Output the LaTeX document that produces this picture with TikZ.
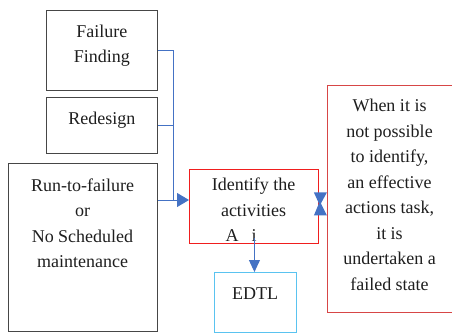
\documentclass[tikz,border=0pt]{standalone}
\usepackage{fontspec}
\setmainfont{Liberation Serif}
\usetikzlibrary{arrows.meta,calc}
\definecolor{boxgray}{RGB}{70,70,70}
\definecolor{conblue}{RGB}{68,114,196}
\definecolor{idred}{RGB}{240,30,30}
\definecolor{rtred}{RGB}{215,70,70}
\definecolor{edcyan}{RGB}{90,195,240}
\definecolor{txt}{RGB}{30,30,30}
\tikzset{
  box/.style={draw=boxgray, line width=0.9pt, inner sep=0pt, anchor=north west},
  txtnode/.style={align=center, text=txt, font=\fontsize{18}{25.5}\selectfont, inner sep=0pt},
  con/.style={draw=conblue, line width=0.9pt},
  tip/.style={-{Triangle[length=12pt,width=14pt]}},
}
\begin{document}
\begin{tikzpicture}[x=1pt,y=-1pt]
\useasboundingbox (0,0) rectangle (452,332);
% boxes
\node[box, minimum width=111pt, minimum height=80pt] (ff) at (46,10) {};
\node[txtnode] at (ff.center) [yshift=5pt] {Failure\\Finding};
\node[box, minimum width=111pt, minimum height=56pt] (rd) at (46,97) {};
\node[txtnode] at (rd.center) [yshift=5pt] {Redesign};
\node[box, minimum width=149pt, minimum height=168pt] (rtf) at (8,163) {};
\node[txtnode] at (82.5,223) {Run-to-failure\\or\\No Scheduled\\maintenance};
\node[box, draw=idred, minimum width=129pt, minimum height=74pt] (id) at (189,169) {};
\node[txtnode] at (253.5,197) {Identify the\\activities};
\node[txtnode] at (232,236) {A};
\node[txtnode] at (254,236) {i};
\node[box, draw=edcyan, minimum width=82pt, minimum height=60pt] (ed) at (214,272) {};
\node[txtnode] at (255,294) {EDTL};
\node[box, draw=rtred, minimum width=125pt, minimum height=227pt] (rt) at (327,85) {};
\node[txtnode] at (389.5,195) {When it is\\not possible\\to identify,\\an effective\\actions task,\\it is\\undertaken a\\failed state};
% connectors
\coordinate (j) at (173,200);
\draw[con] (ff.east) -| (j);
\draw[con] (rd.east) -- (rd.east -| j);
\draw[con] (rtf.east |- j) -- (j);
\draw[con, tip] (j) -- (j -| id.west);
\draw[con, -{Triangle[length=12pt,width=11pt]}] ([xshift=0.5pt,yshift=6pt]id.south) -- ([xshift=-1pt]ed.north);
% bow-tie between identify and right box
\fill[conblue] ($(id.east)+(-5,-14)$) -- ($(id.east)+(8,-14)$) -- ($(id.east)+(2,-3)$) -- ($(id.east)+(8,9)$) -- ($(id.east)+(-5,9)$) -- ($(id.east)+(0,-3)$) -- cycle;
\end{tikzpicture}
\end{document}
